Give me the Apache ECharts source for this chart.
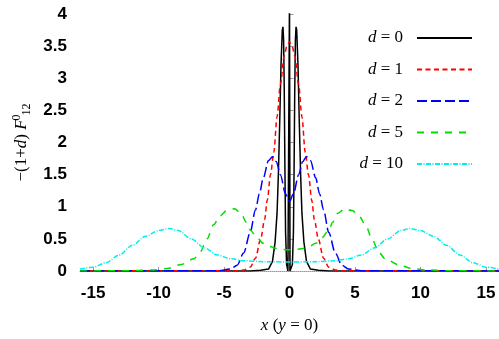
<!DOCTYPE html>
<html>
<head>
<meta charset="utf-8">
<script src="https://cdn.jsdelivr.net/npm/echarts@6/dist/echarts.min.js"></script>
<style>
  html, body { margin: 0; padding: 0; background: #fff; }
  #chart { width: 499px; height: 339px; }
</style>
</head>
<body>
<div id="chart"></div>
<script>
var xTicks = [-15, -10, -5, 0, 5, 10, 15];

var d0X = [-16, -3, -2.2, -1.6, -1.3, -1.1, -0.95, -0.85, -0.75, -0.65, -0.55, -0.5, -0.45, -0.4, -0.35, -0.3, -0.22, -0.12, -0.04, 0, 0.04, 0.12, 0.22, 0.3, 0.35, 0.4, 0.45, 0.5, 0.55, 0.65, 0.75, 0.85, 0.95, 1.1, 1.3, 1.6, 2.2, 3, 16];
var d0Y = [0, 0, 0.01, 0.03, 0.15, 0.45, 0.9, 1.5, 2.3, 3.2, 3.75, 3.8, 3.6, 2.8, 1.6, 0.6, 0.1, 0, 0, 4.3, 0, 0, 0.1, 0.6, 1.6, 2.8, 3.6, 3.8, 3.75, 3.2, 2.3, 1.5, 0.9, 0.45, 0.15, 0.03, 0.01, 0, 0];

var d1X = [-16, -4, -3.5, -3, -2.6, -2.2, -1.9, -1.7, -1.45, -1.2, -0.95, -0.7, -0.4, -0.2, 0, 0.2, 0.4, 0.7, 0.95, 1.2, 1.45, 1.7, 1.9, 2.2, 2.6, 3, 3.5, 4, 16];
var d1Y = [0, 0.005, 0.015, 0.06, 0.2, 0.5, 0.8, 1.1, 1.5, 1.85, 2.4, 2.9, 3.35, 3.5, 3.57, 3.5, 3.35, 2.9, 2.4, 1.85, 1.5, 1.1, 0.8, 0.5, 0.2, 0.06, 0.015, 0.005, 0];

var d2X = [-16, -5.5, -4.5, -4, -3.5, -3, -2.6, -2.3, -2, -1.6, -1.3, -1, -0.7, -0.3, 0, 0.3, 0.7, 1, 1.3, 1.6, 2, 2.3, 2.6, 3, 3.5, 4, 4.5, 5.5, 16];
var d2Y = [0, 0.005, 0.03, 0.09, 0.28, 0.6, 0.95, 1.2, 1.45, 1.72, 1.78, 1.7, 1.5, 1.2, 1.08, 1.2, 1.5, 1.7, 1.78, 1.72, 1.45, 1.2, 0.95, 0.6, 0.28, 0.09, 0.03, 0.005, 0];

var d5X = [-16, -12, -10.5, -9.3, -8.3, -7.3, -6.8, -6.3, -5.8, -5.3, -4.8, -4.2, -3.7, -3.3, -3, -2.5, -2, -1.5, -1, -0.5, 0, 0.5, 1, 1.5, 2, 2.5, 3, 3.3, 3.7, 4.2, 4.8, 5.3, 5.8, 6.3, 6.8, 7.3, 8.3, 9.3, 10.5, 12, 16];
var d5Y = [0, 0.005, 0.015, 0.04, 0.1, 0.19, 0.3, 0.5, 0.72, 0.86, 0.94, 0.97, 0.9, 0.76, 0.64, 0.52, 0.43, 0.38, 0.35, 0.335, 0.33, 0.335, 0.35, 0.38, 0.43, 0.52, 0.64, 0.76, 0.9, 0.97, 0.94, 0.86, 0.72, 0.5, 0.3, 0.19, 0.1, 0.04, 0.015, 0.005, 0];

var d10X = [-16, -15, -14, -13, -12, -11, -10, -9.2, -8.5, -7.5, -6.5, -5.5, -4.5, -3.5, -2, 0, 2, 3.5, 4.5, 5.5, 6.5, 7.5, 8.5, 9.2, 10, 11, 12, 13, 14, 15, 16];
var d10Y = [0.03, 0.06, 0.13, 0.25, 0.4, 0.54, 0.63, 0.66, 0.63, 0.5, 0.36, 0.25, 0.19, 0.16, 0.145, 0.14, 0.145, 0.16, 0.19, 0.25, 0.36, 0.5, 0.63, 0.66, 0.63, 0.54, 0.4, 0.25, 0.13, 0.06, 0.03];

function pairs(xs, ys) {
    return xs.map(function (x, i) { return [x, ys[i]]; });
}

var serif = 'Liberation Serif';
var sans = 'Liberation Sans';

var chart = echarts.init(document.getElementById('chart'));

function curve(name, xs, ys, color, dash, smooth) {
    return {
        name: name,
        type: 'line',
        data: pairs(xs, ys),
        symbol: 'none',
        smooth: smooth,
        smoothMonotone: 'x',
        clip: true,
        color: color,
        lineStyle: { color: color, width: 1.5, type: dash }
    };
}

var option = {
    animation: false,
    grid: { left: 80, right: 0, top: 14, bottom: 68 },
    legend: {
        orient: 'vertical',
        right: 21,
        top: 23,
        align: 'right',
        itemWidth: 55,
        itemHeight: 14,
        itemGap: 11.5,
        itemStyle: { opacity: 0 },
        formatter: function (n) { return '{i|d} = ' + n; },
        textStyle: {
            fontFamily: serif,
            fontSize: 17,
            lineHeight: 20,
            color: '#000',
            padding: [0, 9, 0, 0],
            rich: { i: { fontFamily: serif, fontSize: 17, fontStyle: 'italic', color: '#000' } }
        }
    },
    xAxis: {
        type: 'value',
        min: -16,
        max: 16,
        name: '{i|x} ({i|y} = 0)',
        nameLocation: 'middle',
        nameGap: 46,
        nameTextStyle: {
            fontFamily: serif, fontSize: 17, color: '#000',
            rich: { i: { fontFamily: serif, fontSize: 17, fontStyle: 'italic', color: '#000' } }
        },
        axisLine: { show: true, lineStyle: { color: '#999', type: 'dotted', width: 1 } },
        axisTick: { show: true, inside: true, length: 4, customValues: xTicks, lineStyle: { color: '#999' } },
        axisLabel: {
            customValues: xTicks,
            margin: 14,
            fontFamily: sans, fontWeight: 'bold', fontSize: 17, color: '#000'
        },
        splitLine: { show: false }
    },
    yAxis: {
        type: 'value',
        min: 0,
        max: 4,
        interval: 0.5,
        name: '\u2212(1+{i|d}) {i|F}{sup|0}{sub|12}',
        nameLocation: 'middle',
        nameGap: 47,
        nameTextStyle: {
            fontFamily: serif, fontSize: 17, color: '#000', lineHeight: 22,
            rich: {
                i: { fontFamily: serif, fontSize: 17, fontStyle: 'italic', color: '#000', lineHeight: 22 },
                sup: { fontFamily: serif, fontSize: 12, color: '#000', verticalAlign: 'top', lineHeight: 10, width: 0, padding: [0, 0, 0, 2] },
                sub: { fontFamily: serif, fontSize: 12, color: '#000', verticalAlign: 'bottom', lineHeight: 12, padding: [0, 0, 0, 2] }
            }
        },
        axisLine: { show: true, lineStyle: { color: '#999', type: 'dotted', width: 1 } },
        axisTick: { show: true, inside: true, length: 4, lineStyle: { color: '#999' } },
        axisLabel: {
            margin: 13,
            fontFamily: sans, fontWeight: 'bold', fontSize: 17, color: '#000'
        },
        splitLine: { show: false }
    },
    series: [
        curve('0', d0X, d0Y, '#000000', 'solid', false),
        curve('1', d1X, d1Y, '#ff0000', [5, 3.5], 0.3),
        curve('2', d2X, d2Y, '#0000ff', [10, 4], 0.3),
        curve('5', d5X, d5Y, '#00dd00', [7, 7], 0.3),
        curve('10', d10X, d10Y, '#00eeee', [5, 1.5, 1, 1.5], 0.3)
    ]
};

chart.setOption(option);
</script>
</body>
</html>
